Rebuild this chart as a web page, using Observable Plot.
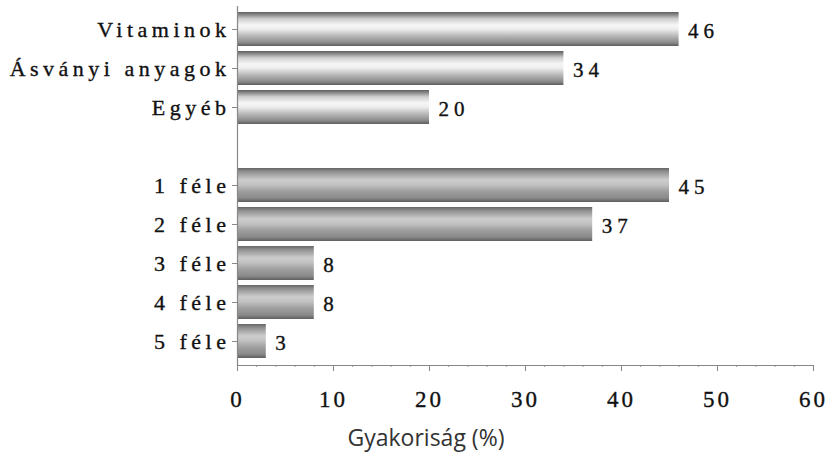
<!DOCTYPE html>
<html>
<head>
<meta charset="utf-8">
<script src="https://cdn.jsdelivr.net/npm/d3@7"></script>
<script src="https://cdn.jsdelivr.net/npm/@observablehq/plot@0.6"></script>
<style>
  html, body { margin: 0; padding: 0; background: #fff; }
  #chart svg { display: block; }
  #chart g[aria-label="y-axis tick label"] text { letter-spacing: 4.5px; stroke: #111; stroke-width: 0.35px; }
  #chart g[aria-label="x-axis tick label"] text { letter-spacing: 3px; stroke: #111; stroke-width: 0.35px; }
  #chart g.value-labels text { letter-spacing: 5px; stroke: #111; stroke-width: 0.35px; }
</style>
</head>
<body>
<div id="chart"></div>
<script>
// Supplement types (upper group) and number of kinds taken (lower group), in %
const typeLabels = ["Vitaminok", "Ásványi anyagok", "Egyéb"];
const typeValues = [46, 34, 20];
const countLabels = ["1 féle", "2 féle", "3 féle", "4 féle", "5 féle"];
const countValues = [45, 37, 8, 8, 3];
const xTicks = [0, 10, 20, 30, 40, 50, 60];
const xMinorTicks = d3.range(0, 61, 2);
const xLabel = "Gyakoriság (%)";

// an empty slot separates the two groups on the band scale
const gap = "\u2007";
const yDomain = [...typeLabels, gap, ...countLabels];

const typeRows = typeLabels.map((label, i) => ({label, value: typeValues[i]}));
const countRows = countLabels.map((label, i) => ({label, value: countValues[i]}));
const allRows = [...typeRows, ...countRows];

const serif = "'Liberation Serif', 'Times New Roman', serif";

const chart = Plot.plot({
  width: 834,
  height: 454,
  marginTop: 6,
  marginBottom: 89,
  marginLeft: 237,
  marginRight: 21,
  style: {fontFamily: serif, color: "#111", background: "#fff"},
  x: {domain: [0, 60]},
  y: {domain: yDomain, padding: 0.12},
  marks: [
    // cylinder-like shading for the bars
    () => {
      const ns = "http://www.w3.org/2000/svg";
      const defs = document.createElementNS(ns, "defs");
      const grads = {
        shadeA: [[0, "#5f5f5f"], [0.08, "#8a8a8a"], [0.2, "#cfcfcf"], [0.38, "#f6f6f6"], [0.5, "#eeeeee"], [0.72, "#b4b4b4"], [0.9, "#8a8a8a"], [1, "#5c5c5c"]],
        shadeB: [[0, "#666666"], [0.1, "#8e8e8e"], [0.35, "#cdcdcd"], [0.5, "#c0c0c0"], [0.68, "#9f9f9f"], [0.88, "#8a8a8a"], [1, "#5e5e5e"]]
      };
      for (const [id, stops] of Object.entries(grads)) {
        const g = document.createElementNS(ns, "linearGradient");
        g.setAttribute("id", id);
        g.setAttribute("x1", "0"); g.setAttribute("y1", "0");
        g.setAttribute("x2", "0"); g.setAttribute("y2", "1");
        for (const [o, c] of stops) {
          const s = document.createElementNS(ns, "stop");
          s.setAttribute("offset", o);
          s.setAttribute("stop-color", c);
          g.appendChild(s);
        }
        defs.appendChild(g);
      }
      return defs;
    },
    Plot.barX(typeRows, {x: "value", y: "label", fill: "url(#shadeA)"}),
    Plot.barX(countRows, {x: "value", y: "label", fill: "url(#shadeB)"}),
    Plot.text(allRows, {
      x: "value", y: "label", text: d => String(d.value),
      textAnchor: "start", dx: 9, dy: 2,
      fontSize: 21, fill: "#111"
    }),
    // y axis: labelled categories only
    Plot.axisY(typeLabels.concat(countLabels), {
      tickSize: 5, tickPadding: 2, fontSize: 22, stroke: "#888",
      fill: "#111", label: null
    }),
    Plot.ruleX([0], {stroke: "#888", strokeWidth: 1.2}),
    // x axis with minor ticks
    Plot.axisX(xMinorTicks, {tickSize: 2, text: null, stroke: "#999", label: null}),
    Plot.axisX(xTicks, {
      tickSize: 6, tickPadding: 19, fontSize: 23, stroke: "#888",
      fill: "#111", label: null
    }),
    Plot.frame({anchor: "bottom", stroke: "#888", strokeWidth: 1.2}),
    Plot.text([xLabel], {
      frameAnchor: "bottom-left", textAnchor: "start", lineAnchor: "middle",
      dx: 110, dy: 73, fontSize: 23, fill: "#333",
      fontFamily: "'Open Sans', 'Noto Sans', sans-serif"
    })
  ]
});

// value labels get their own class for letter spacing
d3.select(chart).selectAll("g[aria-label='text']").filter(function() {
  return this.querySelectorAll("text").length === allRows.length;
}).classed("value-labels", true);

document.getElementById("chart").appendChild(chart);
</script>
</body>
</html>
